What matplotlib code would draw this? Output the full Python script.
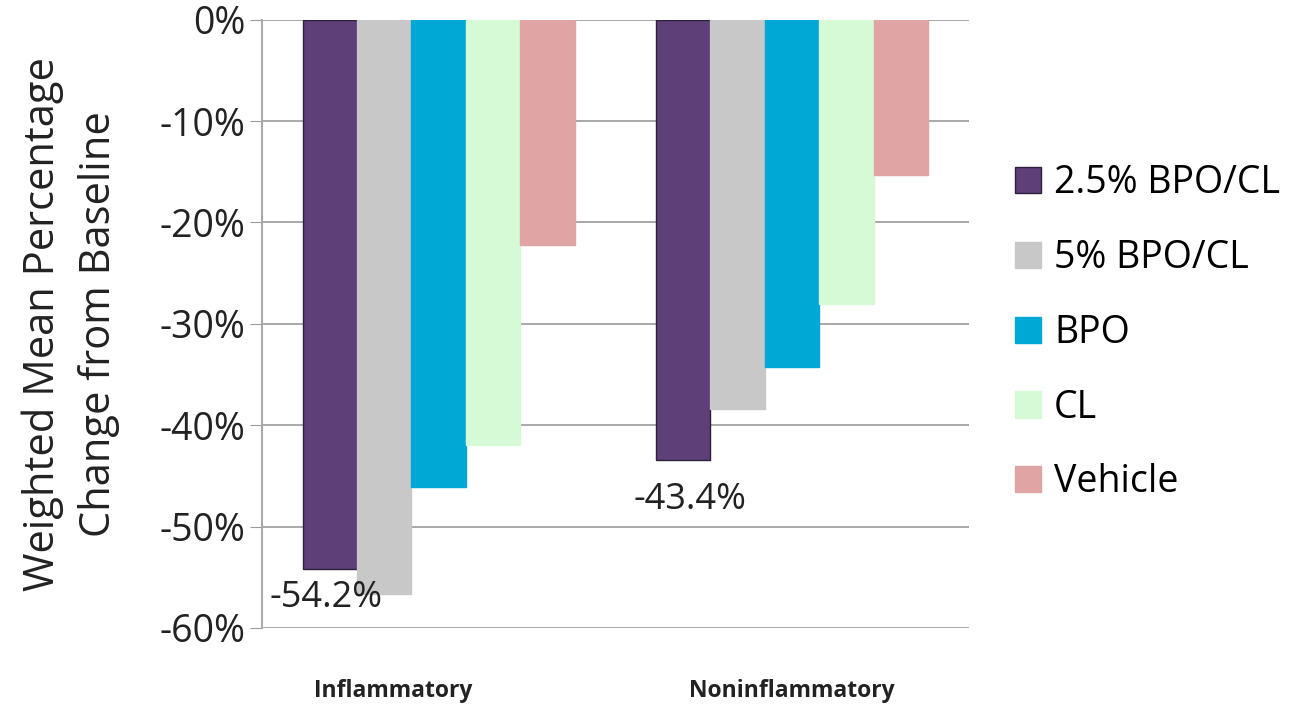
import matplotlib.pyplot as plt
import matplotlib.transforms as mtransforms
import numpy as np

plt.rcParams['font.family'] = ['Open Sans', 'DejaVu Sans']

categories = ['Inflammatory', 'Noninflammatory']
series = ['2.5% BPO/CL', '5% BPO/CL', 'BPO', 'CL', 'Vehicle']
values = {
    '2.5% BPO/CL': [-54.2, -43.4],
    '5% BPO/CL': [-56.6, -38.4],
    'BPO': [-46.1, -34.3],
    'CL': [-42.0, -28.0],
    'Vehicle': [-22.2, -15.3],
}
colors = ['#5E3F78', '#C8C8C8', '#00A8D6', '#D5FAD5', '#E0A4A4']
yticks = [0, -10, -20, -30, -40, -50, -60]

fig = plt.figure(figsize=(13.16, 7.04), dpi=100)
ax = fig.add_axes([0.199, 0.108, 0.537, 0.864])

x = np.arange(len(categories))
w = 0.154
for i, (name, c) in enumerate(zip(series, colors)):
    edge = '#2E1F3C' if i == 0 else c
    ax.bar(x + (i - 2) * w, values[name], w, color=c, edgecolor=edge,
           linewidth=1.0, label=name, zorder=3)

# labels for the 2.5% BPO/CL bars
first = values[series[0]]
ax.text(x[0] - 2 * w - 0.17, first[0] - 1.1, f'{first[0]}%', fontsize=26,
        color='#222222', ha='left', va='top')
ax.text(x[1] - 2 * w - 0.14, first[1] - 2.2, f'{first[1]}%', fontsize=26,
        color='#222222', ha='left', va='top')

ax.set_xlim(-0.5, 1.5)
ax.set_ylim(-60, 0)
ax.set_yticks(yticks)
ax.set_yticklabels([f'{t}%' for t in yticks], fontsize=27, color='#222222')
ax.set_xticks(x)
ax.set_xticklabels(categories, fontsize=16.5, fontweight='bold', color='#222222')
ax.tick_params(axis='x', length=0, pad=37)
ax.tick_params(axis='y', length=9, color='#999999', pad=3)
ax.yaxis.grid(True, color='#999999', linewidth=1.2, zorder=0)

# first category label sits a bit left of its group
lbl = ax.get_xticklabels()[0]
lbl.set_transform(lbl.get_transform() +
                  mtransforms.ScaledTranslation(-0.45, 0, fig.dpi_scale_trans))

for s in ['top', 'right', 'bottom']:
    ax.spines[s].set_visible(False)
ax.spines['left'].set_color('#AAAAAA')
ax.spines['left'].set_linewidth(1.5)

ax.set_ylabel('Weighted Mean Percentage\nChange from Baseline', fontsize=30,
              color='#222222', labelpad=28, linespacing=1.45)

ax.legend(loc='center left', bbox_to_anchor=(1.044, 0.485), frameon=False,
          fontsize=27, handlelength=0.7, handleheight=0.7,
          handletextpad=0.35, labelspacing=0.98, borderaxespad=0)

fig.savefig('out.png', dpi=100)
